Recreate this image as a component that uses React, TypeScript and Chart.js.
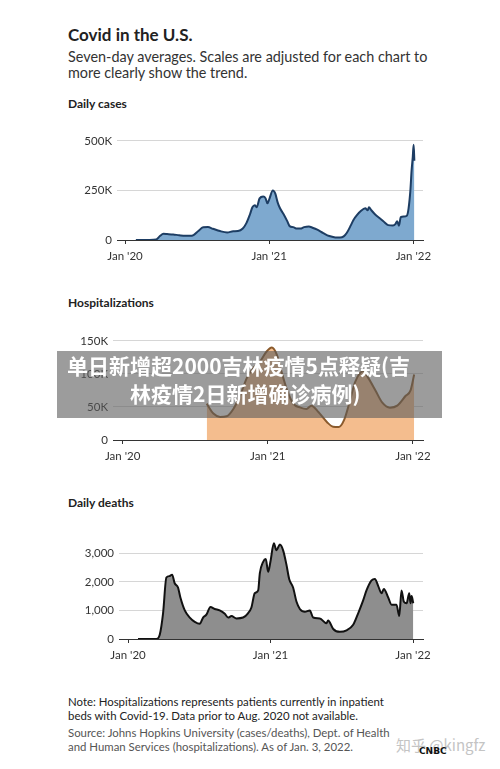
import React, { useEffect, useRef } from 'react';
import { Chart, registerables } from 'chart.js';

Chart.register(...registerables);

// x values are months since Jan 1, 2020 (0 = Jan '20, 12 = Jan '21, 24 = Jan '22)
const xTickValues = [0, 12, 24];
const xTickLabels = ["Jan '20", "Jan '21", "Jan '22"];

const caseMonths = [0.9, 2.0, 2.6, 2.9, 3.2, 3.5, 4.0, 4.5, 5.0, 5.4, 5.7, 6.1, 6.5, 6.9, 7.3, 7.9, 8.5, 9.0, 9.4, 9.8, 10.1, 10.4, 10.6, 10.8, 10.95, 11.2, 11.5, 11.7, 11.85, 12.0, 12.3, 12.5, 12.7, 12.9, 13.2, 13.5, 13.7, 14.0, 14.3, 14.6, 14.9, 15.3, 15.6, 16.0, 16.5, 17.0, 17.5, 17.9, 18.2, 18.45, 18.8, 19.0, 19.3, 19.6, 20.0, 20.2, 20.3, 20.5, 20.8, 21.2, 21.5, 21.9, 22.3, 22.5, 22.65, 22.8, 22.95, 23.2, 23.45, 23.6, 23.75, 23.85, 23.95, 24.02, 24.08];
const caseValues = [0, 500, 3000, 20000, 31000, 30000, 28000, 24000, 21000, 21000, 25000, 45000, 64000, 65000, 57000, 45000, 38000, 44000, 45000, 58000, 85000, 130000, 165000, 175000, 165000, 210000, 220000, 210000, 185000, 205000, 250000, 235000, 190000, 160000, 130000, 95000, 70000, 65000, 58000, 58000, 65000, 68000, 62000, 52000, 35000, 20000, 13000, 12000, 18000, 35000, 75000, 100000, 125000, 145000, 160000, 150000, 165000, 150000, 130000, 110000, 95000, 75000, 73000, 80000, 95000, 72000, 115000, 118000, 122000, 160000, 250000, 350000, 420000, 480000, 400000];
const caseYTicks = [0, 250000, 500000];
const caseYLabels = ['0', '250K', '500K'];

const hospMonths = [6.95, 7.5, 8.05, 8.6, 9.15, 9.7, 10.27, 10.8, 11.37, 11.9, 12.33, 12.75, 13.2, 13.6, 14.1, 14.7, 15.2, 15.6, 16.2, 16.9, 17.4, 17.85, 18.3, 18.8, 19.2, 19.65, 19.9, 20.3, 20.9, 21.45, 22.1, 22.7, 23.4, 23.8, 24.1];
const hospValues = [55000, 40000, 35000, 36000, 47000, 67000, 94000, 109000, 119000, 134000, 140000, 129000, 99000, 75000, 55000, 49000, 47000, 52000, 42000, 27000, 20000, 19500, 30000, 60000, 87000, 102000, 104000, 94000, 75000, 57000, 49000, 52000, 67000, 75000, 99000];
const hospYTicks = [0, 50000, 100000, 150000];
const hospYLabels = ['0', '50K', '100K', '150K'];

const deathMonths = [0.84, 2.39, 2.67, 2.95, 3.23, 3.51, 3.71, 3.93, 4.21, 4.41, 4.78, 5.2, 5.62, 6.04, 6.32, 6.6, 6.94, 7.3, 7.72, 8.15, 8.43, 8.71, 9.13, 9.69, 10.1, 10.39, 10.67, 10.96, 11.1, 11.38, 11.6, 11.8, 11.99, 12.28, 12.5, 12.78, 13.06, 13.34, 13.57, 13.9, 14.19, 14.47, 14.89, 15.31, 15.59, 16.15, 16.71, 16.85, 17.28, 17.84, 18.4, 18.96, 19.38, 19.8, 20.08, 20.51, 20.79, 21.07, 21.35, 21.54, 21.91, 22.19, 22.61, 22.84, 23.03, 23.23, 23.46, 23.68, 23.79, 23.88, 24.02];
const deathValues = [0, 0, 150, 900, 2150, 2200, 2250, 1950, 1800, 1450, 1000, 750, 600, 530, 750, 850, 1120, 1050, 1000, 880, 750, 800, 720, 750, 900, 1100, 1600, 1700, 2300, 2700, 2800, 2350, 2700, 3350, 3100, 3300, 3100, 2600, 2100, 1800, 1300, 1050, 950, 1000, 750, 720, 550, 650, 350, 250, 300, 500, 900, 1350, 1700, 2050, 2100, 1850, 1600, 1750, 1450, 1200, 1200, 800, 1700, 1300, 1250, 1600, 1250, 1500, 1250];
const deathYTicks = [0, 1000, 2000, 3000];
const deathYLabels = ['0', '1,000', '2,000', '3,000'];

const FONT = 'Lato, "Open Sans", sans-serif';

type AreaProps = {
  top: number;
  height: number;
  left: number;
  right: number;
  xMin: number;
  xMax: number;
  yMax: number;
  xs: number[];
  ys: number[];
  yTicks: number[];
  yLabels: string[];
  fillColor: string;
  lineColor: string;
};

function AreaChart(p: AreaProps) {
  const ref = useRef<HTMLCanvasElement | null>(null);
  useEffect(() => {
    if (!ref.current) return;
    const data = p.xs.map((x, i) => ({ x, y: p.ys[i] }));
    const chart = new Chart(ref.current, {
      type: 'line',
      data: {
        datasets: [
          {
            data,
            fill: 'origin',
            backgroundColor: p.fillColor,
            borderColor: p.lineColor,
            borderWidth: 2,
            pointRadius: 0,
            cubicInterpolationMode: 'monotone',
          },
        ],
      },
      options: {
        responsive: false,
        animation: false,
        devicePixelRatio: 1,
        layout: { padding: { top: 10, right: 500 - p.right, bottom: 0, left: 0 } },
        plugins: { legend: { display: false }, tooltip: { enabled: false } },
        scales: {
          x: {
            type: 'linear',
            min: p.xMin,
            max: p.xMax,
            afterBuildTicks: (scale: any) => {
              scale.ticks = xTickValues.map((v) => ({ value: v }));
            },
            afterFit: (scale: any) => {
              scale.height = 30;
            },
            grid: {
              drawOnChartArea: false,
              drawTicks: true,
              tickLength: 4,
              color: '#333',
            },
            border: { display: true, color: '#333', width: 1 },
            ticks: {
              autoSkip: false,
              maxRotation: 0,
              padding: 5,
              color: '#333',
              font: { family: FONT, size: 11.5 },
              callback: (v: any) => {
                const i = xTickValues.indexOf(Number(v));
                return i >= 0 ? xTickLabels[i] : '';
              },
            },
          },
          y: {
            type: 'linear',
            min: 0,
            max: p.yMax,
            afterBuildTicks: (scale: any) => {
              scale.ticks = p.yTicks.map((v) => ({ value: v }));
            },
            afterFit: (scale: any) => {
              scale.width = p.left;
            },
            grid: {
              drawTicks: false,
              color: (ctx: any) => (ctx.tick && ctx.tick.value === 0 ? '#333' : '#d6d6d6'),
            },
            border: { display: false },
            ticks: {
              padding: 5,
              color: '#333',
              font: { family: FONT, size: 11.5 },
              callback: (v: any) => {
                const i = p.yTicks.indexOf(Number(v));
                return i >= 0 ? p.yLabels[i] : '';
              },
            },
          },
        },
      },
    } as any);
    return () => chart.destroy();
  }, []);
  return (
    <canvas
      ref={ref}
      width={500}
      height={p.height}
      style={{ position: 'absolute', left: 0, top: p.top, width: 500, height: p.height }}
    />
  );
}

const textBase: React.CSSProperties = {
  position: 'absolute',
  left: 68,
  fontFamily: FONT,
  color: '#222',
  whiteSpace: 'nowrap',
  margin: 0,
};

export default function App() {
  return (
    <div
      style={{
        position: 'absolute',
        left: 0,
        top: 0,
        width: 500,
        height: 769,
        background: '#fff',
        overflow: 'hidden',
        fontFamily: FONT,
      }}
    >
      <div style={{ ...textBase, top: 25, fontSize: 17, lineHeight: '20px', fontWeight: 700 }}>Covid in the U.S.</div>
      <div style={{ ...textBase, top: 49, fontSize: 14.4, lineHeight: '16px', color: '#333' }}>
        Seven-day averages. Scales are adjusted for each chart to
        <br />
        more clearly show the trend.
      </div>
      <div style={{ ...textBase, top: 97, fontSize: 12, lineHeight: '14px', fontWeight: 700 }}>Daily cases</div>
      <div style={{ ...textBase, top: 296, fontSize: 12, lineHeight: '14px', fontWeight: 700 }}>Hospitalizations</div>
      <div style={{ ...textBase, top: 496, fontSize: 12, lineHeight: '14px', fontWeight: 700 }}>Daily deaths</div>

      <AreaChart
        top={129}
        height={141}
        left={117}
        right={423}
        xMin={-0.67}
        xMax={24.8}
        yMax={500000}
        xs={caseMonths}
        ys={caseValues}
        yTicks={caseYTicks}
        yLabels={caseYLabels}
        fillColor="#7ea9cf"
        lineColor="#1d3d63"
      />
      <AreaChart
        top={329}
        height={141}
        left={113}
        right={423}
        xMin={-0.8}
        xMax={24.83}
        yMax={150000}
        xs={hospMonths}
        ys={hospValues}
        yTicks={hospYTicks}
        yLabels={hospYLabels}
        fillColor="#f4bd8e"
        lineColor="#8a5a2c"
      />
      <AreaChart
        top={527}
        height={142}
        left={119}
        right={423}
        xMin={-0.76}
        xMax={24.84}
        yMax={3500}
        xs={deathMonths}
        ys={deathValues}
        yTicks={deathYTicks}
        yLabels={deathYLabels}
        fillColor="#8e8e8e"
        lineColor="#111"
      />

      <div style={{ ...textBase, top: 695, fontSize: 11.4, lineHeight: '14px', color: '#222' }}>
        Note: Hospitalizations represents patients currently in inpatient
        <br />
        beds with Covid-19. Data prior to Aug. 2020 not available.
      </div>
      <div style={{ ...textBase, top: 726, fontSize: 11.4, lineHeight: '14px', color: '#555' }}>
        Source: Johns Hopkins University (cases/deaths), Dept. of Health
        <br />
        and Human Services (hospitalizations). As of Jan. 3, 2022.
      </div>

      <div
        style={{
          position: 'absolute',
          left: 396,
          top: 736,
          fontSize: 15,
          lineHeight: '18px',
          color: '#c4c4c4',
          fontFamily: '"Noto Sans CJK SC", sans-serif',
          whiteSpace: 'nowrap',
        }}
      >
        知乎 @kingfz
      </div>
      <div
        style={{
          position: 'absolute',
          left: 419,
          top: 746,
          fontSize: 9,
          lineHeight: '10px',
          fontWeight: 900,
          color: '#111',
          fontFamily: '"DejaVu Sans", sans-serif',
          whiteSpace: 'nowrap',
        }}
      >
        CNBC
      </div>

      <div
        style={{
          position: 'absolute',
          left: 57,
          top: 351,
          width: 385,
          height: 67,
          background: 'rgba(90,90,90,0.6)',
          zIndex: 5,
        }}
      />
      <div
        style={{
          position: 'absolute',
          left: 67,
          top: 355,
          fontSize: 21,
          lineHeight: '21px',
          fontWeight: 700,
          color: '#fff',
          fontFamily: '"Noto Sans CJK SC", sans-serif',
          whiteSpace: 'nowrap',
          zIndex: 6,
        }}
      >
        单日新增超2000吉林疫情5点释疑(吉
      </div>
      <div
        style={{
          position: 'absolute',
          left: 130,
          top: 383,
          fontSize: 21,
          lineHeight: '21px',
          fontWeight: 700,
          color: '#fff',
          fontFamily: '"Noto Sans CJK SC", sans-serif',
          whiteSpace: 'nowrap',
          zIndex: 6,
        }}
      >
        林疫情2日新增确诊病例)
      </div>
    </div>
  );
}
